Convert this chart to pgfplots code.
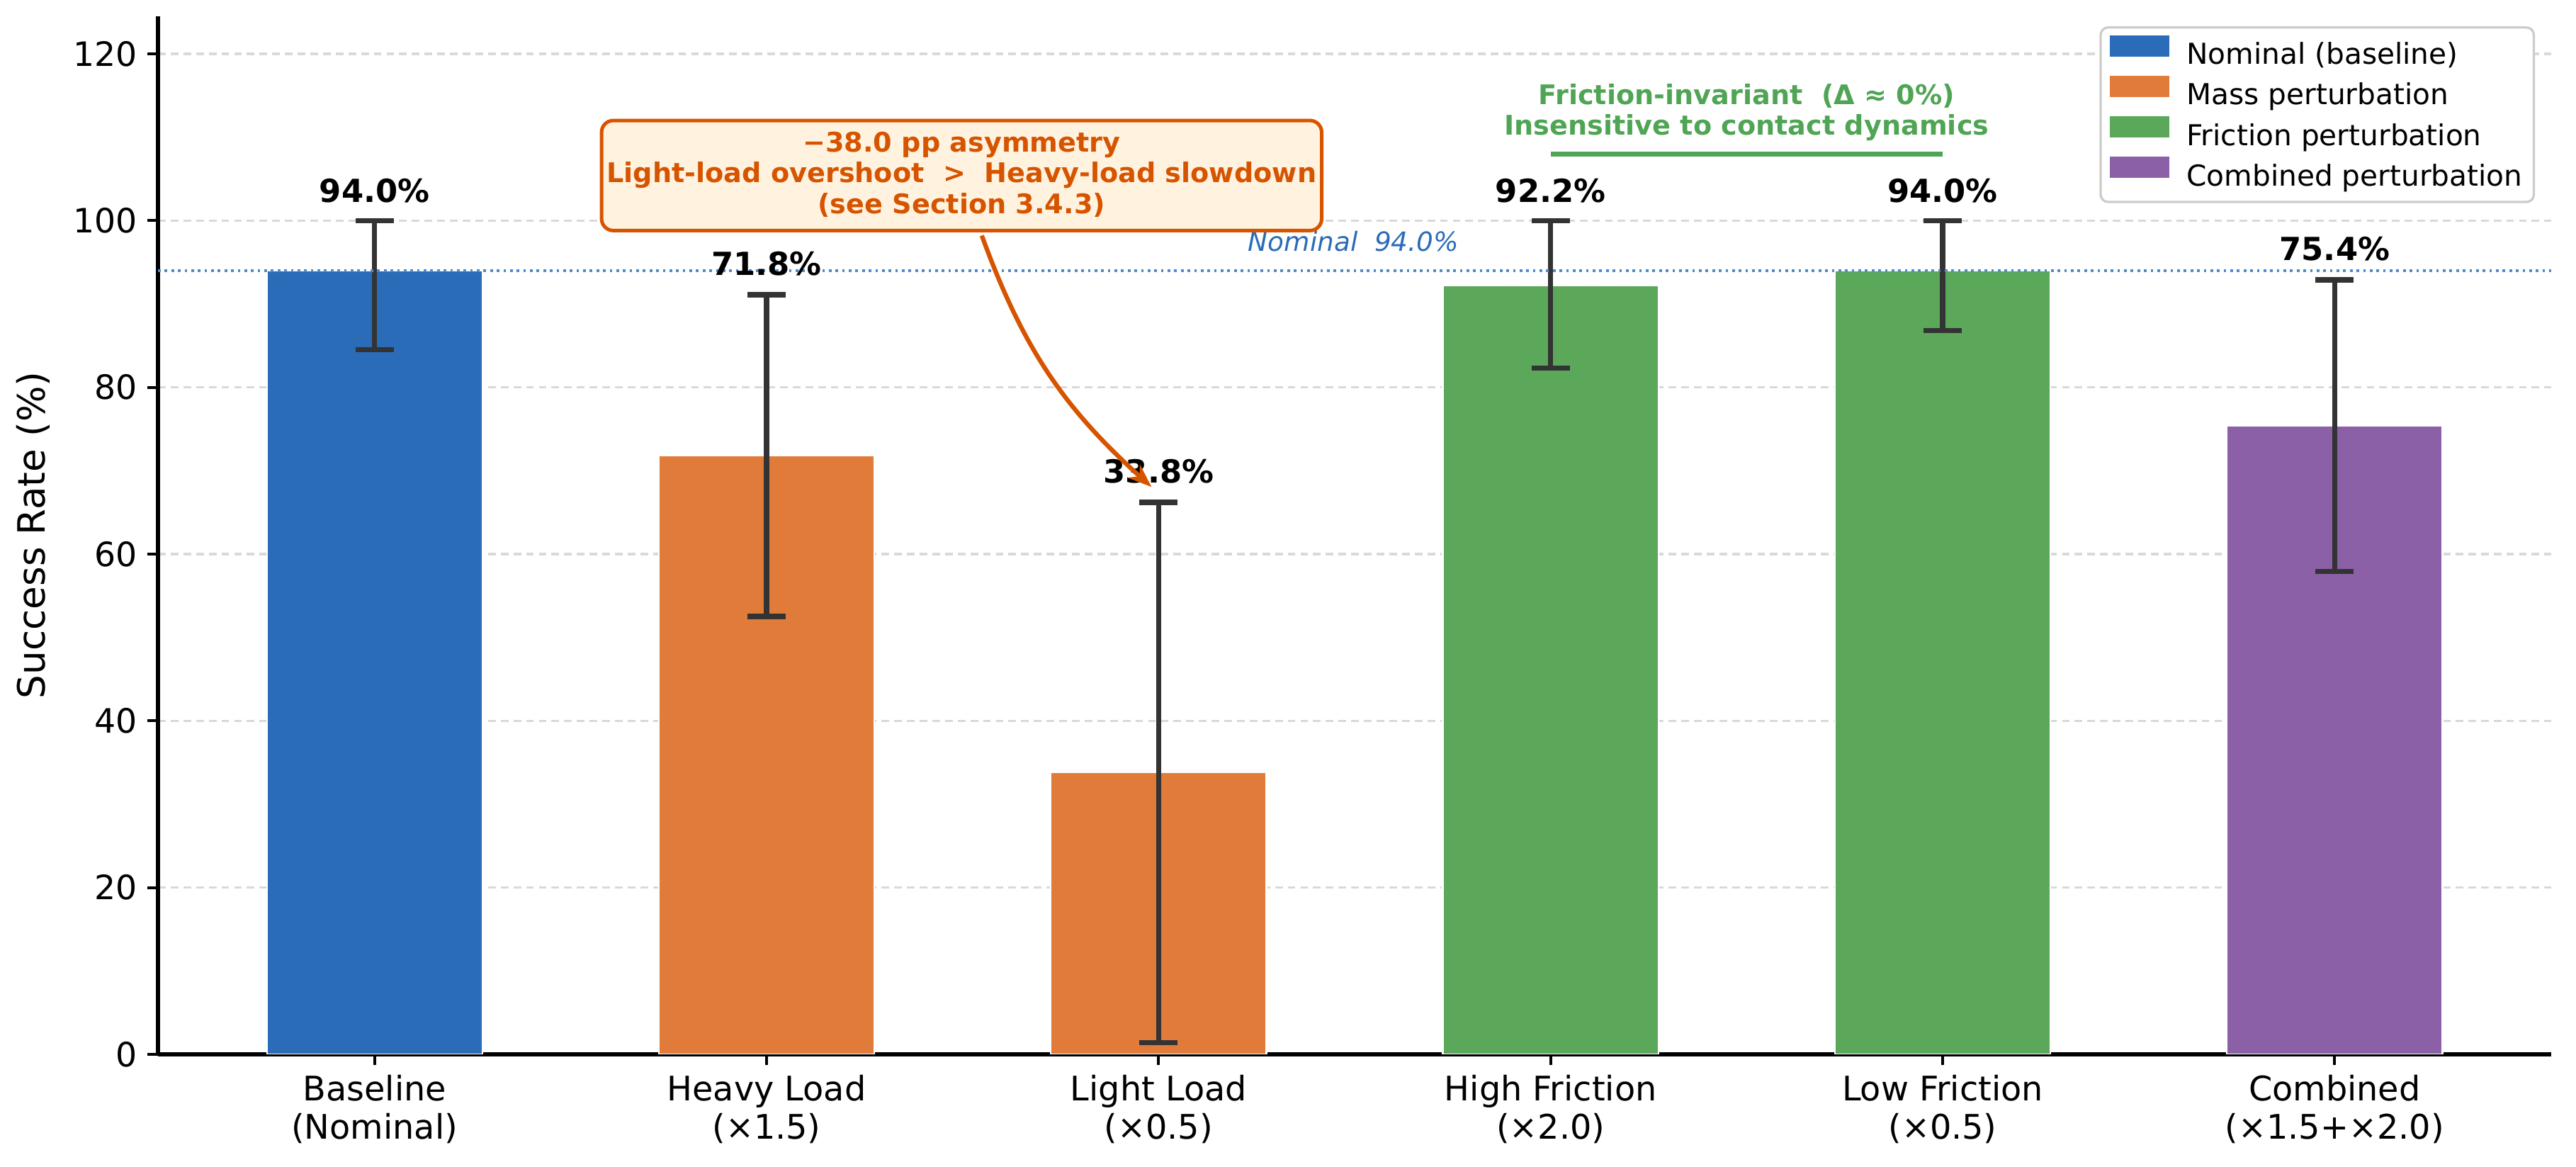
\documentclass[border=0pt]{standalone}
\usepackage{fontspec}
\setmainfont{DejaVu Sans}
\usepackage{pgfplots}
\pgfplotsset{compat=1.18}
\usetikzlibrary{arrows.meta}

\definecolor{cblue}{RGB}{43,108,184}
\definecolor{corange}{RGB}{224,123,57}
\definecolor{cgreen}{RGB}{91,168,91}
\definecolor{cpurple}{RGB}{139,96,166}
\definecolor{annor}{RGB}{214,84,0}
\definecolor{annfill}{RGB}{255,242,222}
\definecolor{anngreen}{RGB}{80,165,85}
\definecolor{nomline}{RGB}{74,140,210}
\definecolor{errc}{RGB}{51,51,51}

\pgfplotsset{
  barstyle/.style={ybar, bar width=0.55, bar shift=0pt, draw=white, line width=0.5bp,
    error bars/y dir=both, error bars/y explicit,
    error bars/error bar style={errc, line width=1.8bp},
    error bars/error mark options={errc, rotate=90, line width=1.8bp, mark size=6.5bp}},
}

\begin{document}
\begin{tikzpicture}
\begin{axis}[
  at={(0,0)}, anchor=south west,
  scale only axis, width=810.72bp, height=351.6bp,
  xmin=-0.5525, xmax=5.5525, ymin=0, ymax=124.5,
  axis x line=bottom, axis y line=left,
  axis line style={-, line width=1.3bp, black},
  tick align=outside, major tick length=3.6bp,
  tick style={line width=1bp, black},
  xtick={0,1,2,3,4,5},
  xticklabels={{Baseline\\(Nominal)}, {Heavy Load\\(×1.5)}, {Light Load\\(×0.5)}, {High Friction\\(×2.0)}, {Low Friction\\(×0.5)}, {Combined\\(×1.5+×2.0)}},
  xticklabel style={align=center, font=\fontsize{11.5}{13}\selectfont},
  ytick={0,20,40,60,80,100,120},
  yticklabel style={font=\fontsize{11.4}{13}\selectfont},
  /pgf/number format/assume math mode=true,
  ymajorgrids,
  major grid style={line width=0.8bp, gray!30, dash pattern=on 2.6bp off 1.7bp},
  ylabel={Success Rate (\%)},
  ylabel style={font=\fontsize{12.8}{15}\selectfont, at={(axis description cs:-0.05205,0.5)}, anchor=center},
  legend style={at={(axis description cs:1,1)}, anchor=north east, xshift=-5.5bp, yshift=-3.4bp,
    draw=gray!40, line width=0.8bp, rounded corners=2.5bp, fill=white,
    font=\fontsize{9.8}{11.5}\selectfont, inner xsep=3bp, inner ysep=2.6bp, row sep=0.9bp, column sep=5bp,
    nodes={inner sep=0.8bp, text height=7.3bp, text depth=2.1bp}},
  legend cell align=left,
  legend image code/.code={\fill[#1,draw=none,sharp corners] (0bp,0bp) rectangle (20.3bp,7.3bp);},
]
\addplot[barstyle, fill=cblue] coordinates {(0,94.0) += (0,6.0) -= (0,9.5)};
\addlegendentry{Nominal (baseline)}
\addplot[barstyle, fill=corange] coordinates {(1,71.8) +- (0,19.3) (2,33.8) +- (0,32.4)};
\addlegendentry{Mass perturbation}
\addplot[barstyle, fill=cgreen] coordinates {(3,92.2) += (0,7.8) -= (0,9.9) (4,94.0) += (0,6.0) -= (0,7.2)};
\addlegendentry{Friction perturbation}
\addplot[barstyle, fill=cpurple] coordinates {(5,75.4) +- (0,17.5)};
\addlegendentry{Combined perturbation}

\addplot[forget plot, mark=none, nomline, line width=1.1bp, dash pattern=on 0.9bp off 1.35bp] coordinates {(-0.5525,94) (5.5525,94)};

% value labels
\node[anchor=base, font=\bfseries\fontsize{10.8}{13}\selectfont] at (axis cs:0,102.2) {94.0\%};
\node[anchor=base, font=\bfseries\fontsize{10.8}{13}\selectfont] at (axis cs:1,93.4) {71.8\%};
\node[anchor=base, font=\bfseries\fontsize{10.8}{13}\selectfont] at (axis cs:2,68.5) {33.8\%};
\node[anchor=base, font=\bfseries\fontsize{10.8}{13}\selectfont] at (axis cs:3,102.2) {92.2\%};
\node[anchor=base, font=\bfseries\fontsize{10.8}{13}\selectfont] at (axis cs:4,102.2) {94.0\%};
\node[anchor=base, font=\bfseries\fontsize{10.8}{13}\selectfont] at (axis cs:5,95.2) {75.4\%};

% nominal label
\node[anchor=base, text=cblue, font=\itshape\fontsize{9}{11}\selectfont] at (axis cs:2.497,96.3) {Nominal\ \ 94.0\%};

% friction annotation
\draw[anngreen, line width=1.7bp] (axis cs:3,108) -- (axis cs:4,108);
\node[anchor=base, text=anngreen, font=\bfseries\fontsize{9.2}{11}\selectfont] at (axis cs:3.5,113.9) {Friction-invariant\ \ (Δ ≈ 0\%)};
\node[anchor=base, text=anngreen, font=\bfseries\fontsize{9.2}{11}\selectfont] at (axis cs:3.5,110.3) {Insensitive to contact dynamics};

% asymmetry annotation
\draw[annor, line width=1.5bp, -{Stealth[length=8bp,width=6bp]}] (axis cs:1.549,98.2) to[bend right=14] (axis cs:1.982,68.05);
\draw[annor, line width=1.2bp, fill=annfill, rounded corners=4bp] (axis cs:0.579,98.8) rectangle (axis cs:2.416,112.0);
\node[anchor=base, text=annor, font=\bfseries\fontsize{9.2}{11}\selectfont] at (axis cs:1.4975,108.2) {−38.0 pp asymmetry};
\node[anchor=base, text=annor, font=\bfseries\fontsize{9.2}{11}\selectfont] at (axis cs:1.4975,104.6) {Light-load overshoot\ \ >\ \ Heavy-load slowdown};
\node[anchor=base, text=annor, font=\bfseries\fontsize{9.2}{11}\selectfont] at (axis cs:1.4975,100.8) {(see Section 3.4.3)};
\end{axis}
\pgfresetboundingbox
\path[use as bounding box] (-53.52bp,-38.16bp) rectangle (819.12bp,357.12bp);
\end{tikzpicture}
\end{document}
